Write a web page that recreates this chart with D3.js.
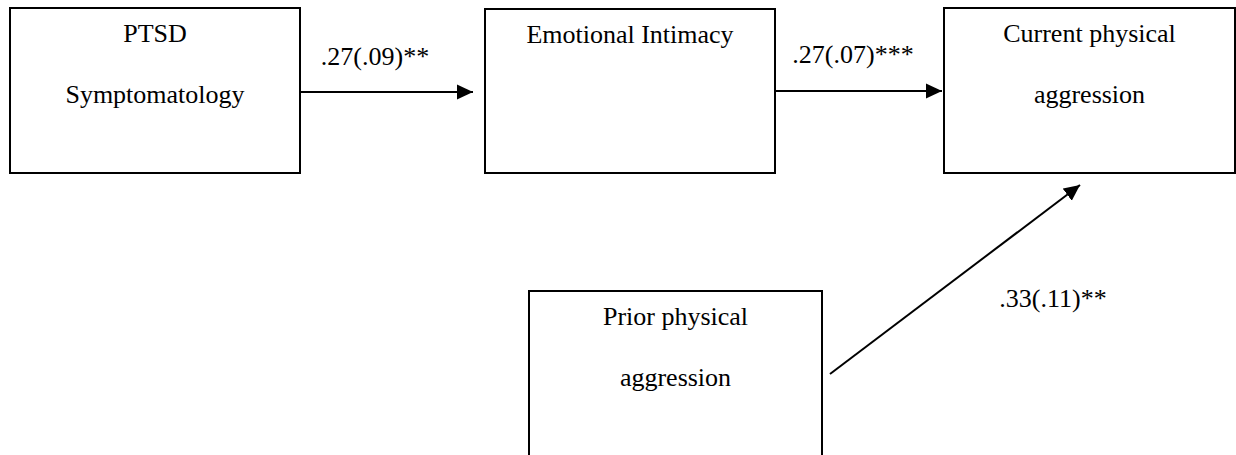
<!DOCTYPE html>
<html>
<head>
<meta charset="utf-8">
<script src="https://cdn.jsdelivr.net/npm/d3@7"></script>
<style>
	body { margin: 0; background: #fff; }
	text { font-family: "Liberation Serif", "Times New Roman", serif; fill: #000; }
</style>
</head>
<body>
<div id="chart-area"></div>
<script>
var width = 1236, height = 455;

// variables in the model (one entry per box, text lines inside)
var nodeIds = ["ptsd", "intimacy", "current", "prior"];
var nodeLines = [
	["PTSD", "Symptomatology"],
	["Emotional Intimacy"],
	["Current physical", "aggression"],
	["Prior physical", "aggression"]
];

// paths: from, to, coefficient (se) and stars
var pathFrom = ["ptsd", "intimacy", "prior"];
var pathTo = ["intimacy", "current", "current"];
var pathLabels = [".27(.09)**", ".27(.07)***", ".33(.11)**"];

// layout of the boxes (pixel space)
var layout = {
	ptsd:     {x: 10,  y: 8,   w: 290, h: 165},
	intimacy: {x: 485, y: 9,   w: 290, h: 164},
	current:  {x: 944, y: 8,   w: 291, h: 165},
	prior:    {x: 529, y: 291, w: 293, h: 200}
};

// where each arrow starts/ends, and where its label sits
var arrowGeom = [
	{x1: 300, y1: 92,  x2: 473,  y2: 92,  lx: 375,  ly: 65},
	{x1: 775, y1: 91,  x2: 942,  y2: 91,  lx: 853,  ly: 63},
	{x1: 830, y1: 374, x2: 1080, y2: 185, lx: 1053, ly: 307}
];

var svg = d3.select("#chart-area")
	.append("svg")
		.attr("width", width)
		.attr("height", height);

//arrowhead
svg.append("defs").append("marker")
	.attr("id", "head")
	.attr("markerUnits", "userSpaceOnUse")
	.attr("viewBox", "0 -8 16 16")
	.attr("markerWidth", 16)
	.attr("markerHeight", 16)
	.attr("refX", 16)
	.attr("refY", 0)
	.attr("orient", "auto")
	.append("path")
		.attr("d", "M0,-7.5L16,0L0,7.5Z")
		.attr("fill", "#000");

//boxes
var nodes = svg.selectAll("g.node")
	.data(nodeIds)
	.enter()
	.append("g")
		.attr("class", "node")
		.attr("transform", function(d){ return "translate(" + layout[d].x + ", " + layout[d].y + ")"; });

nodes.append("rect")
	.attr("width", function(d){ return layout[d].w; })
	.attr("height", function(d){ return layout[d].h; })
	.attr("fill", "#fff")
	.attr("stroke", "#000")
	.attr("stroke-width", 2);

nodes.each(function(d, i){
	var g = d3.select(this);
	nodeLines[i].forEach(function(line, j){
		g.append("text")
			.attr("x", layout[d].w / 2)
			.attr("y", 34 + j * 61)
			.attr("text-anchor", "middle")
			.attr("font-size", "26px")
			.text(line);
	});
});

//paths
var paths = svg.selectAll("g.path")
	.data(pathLabels)
	.enter()
	.append("g")
		.attr("class", "path");

paths.append("line")
	.attr("x1", function(d, i){ return arrowGeom[i].x1; })
	.attr("y1", function(d, i){ return arrowGeom[i].y1; })
	.attr("x2", function(d, i){ return arrowGeom[i].x2; })
	.attr("y2", function(d, i){ return arrowGeom[i].y2; })
	.attr("stroke", "#000")
	.attr("stroke-width", 2)
	.attr("marker-end", "url(#head)");

paths.append("text")
	.attr("x", function(d, i){ return arrowGeom[i].lx; })
	.attr("y", function(d, i){ return arrowGeom[i].ly; })
	.attr("text-anchor", "middle")
	.attr("font-size", "26px")
	.text(function(d){ return d; });
</script>
</body>
</html>
